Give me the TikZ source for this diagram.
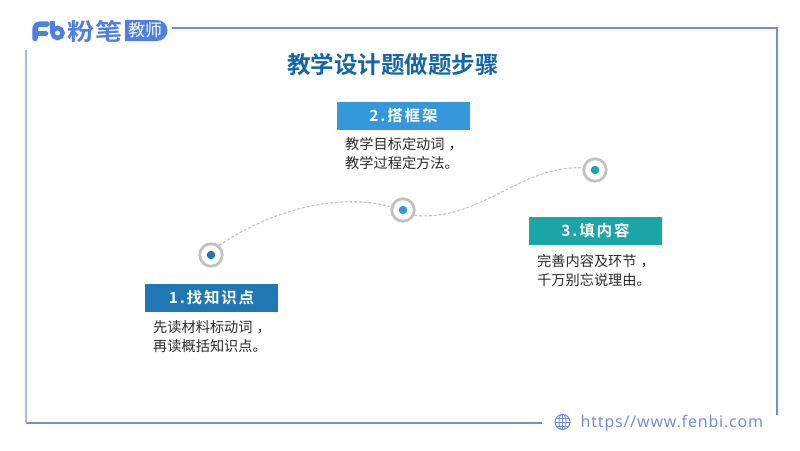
\documentclass[tikz,border=0pt]{standalone}
\usepackage{fontspec}
\setmainfont{Noto Sans}
\newfontfamily\cjk[BoldFont={Noto Sans CJK SC Bold}]{Noto Sans CJK SC}
\newfontfamily\cjkspaced[BoldFont={Noto Sans CJK SC Bold},LetterSpace=12]{Noto Sans CJK SC}
\newfontfamily\urlfont[LetterSpace=5]{Noto Sans}
\usetikzlibrary{positioning}
\definecolor{frameblue}{HTML}{6F8FDC}
\definecolor{frameleft}{HTML}{A9BBDC}
\definecolor{logoblue}{HTML}{4F7FE6}
\definecolor{titleblue}{HTML}{1565A8}
\definecolor{stepone}{HTML}{1F77B4}
\definecolor{steptwo}{HTML}{3498DB}
\definecolor{stepthree}{HTML}{1BA5A7}
\definecolor{ringgray}{HTML}{C2C2C2}
\definecolor{textdark}{HTML}{2A2A2A}
\tikzset{
    stepbox/.style={minimum width=133, minimum height=28, inner sep=0pt, text=white, font=\cjkspaced\bfseries\fontsize{15.5}{15.5}\selectfont},
    steptext/.style={anchor=north west, align=left, inner sep=0pt, text=textdark, font=\cjk\fontsize{14.2}{18.6}\selectfont},
    ring/.style={circle, draw=ringgray, line width=2.8, fill=white, minimum size=22.5, inner sep=0pt},
    ringdot/.style={circle, minimum size=8.5, inner sep=0pt},
    trail/.style={draw=ringgray, dash pattern=on 3 off 1.8, line width=1.1},
    frameline/.style={frameblue, line width=1.5},
    globeline/.style={frameblue, line width=0.8}
}
\newcommand{\stepStop}[4]{
    \node[ring] (#4) at (#2, #3) {};
    \node[ringdot, fill=#1] (#4dot) at (#2, #3) {};
}
\newcommand{\stepHead}[5]{
    \node[stepbox, fill=#1] (#4) at (#2, #3) {\raisebox{-2pt}{#5}};
}
\begin{document}
\begin{tikzpicture}[x=1pt, y=-1pt]
	\useasboundingbox (0, 0) rectangle (800, 450);

	\coordinate (topLeft) at (172, 28);
	\coordinate (topRight) at (778, 28);
	\coordinate (rightEnd) at (777, 415);
	\coordinate (bottomLeft) at (26, 423);
	\coordinate (bottomEnd) at (542, 423);
	\coordinate (leftEnd) at (26, 50);
	\draw[frameline] (topLeft) -- (topRight);
	\draw[frameline] (topRight -| rightEnd) -- (rightEnd);
	\draw[frameline] (bottomLeft) -- (bottomEnd);
	\draw[frameleft, line width=1.5] (bottomLeft) -- (leftEnd);

	\draw[logoblue, line width=5.5, line cap=round, line join=round] (35, 38.5) -- (35, 30) .. controls (35, 26) and (37, 24) .. (41, 24) -- (47, 24);
	\draw[logoblue, line width=4.5, line cap=round] (35, 33.5) -- (46, 33.5);
	\draw[logoblue, line width=4.5] (52.5, 21) -- (52.5, 33);
	\draw[logoblue, line width=4.5] (57.5, 33) circle (5);
	\node[text=logoblue, inner sep=0pt, font=\cjk\bfseries\fontsize{23.5}{23.5}\selectfont] (logoName) at (95, 31) {\scalebox{1.15}[1]{粉笔}};
	\fill[logoblue] (125, 20) -- (157, 20) arc[start angle=90, end angle=-90, radius=10.5pt] -- (125, 41) -- cycle;
	\node[text=white, inner sep=0pt, font=\cjk\fontsize{17}{17}\selectfont] (logoPill) at (145, 30.5) {教师};

	\node[text=titleblue, inner sep=0pt, font=\cjk\bfseries\fontsize{23.5}{23.5}\selectfont] (title) at (393, 65) {教学设计题做题步骤};

	\stepStop{stepone}{211}{255}{ringOne};
	\stepStop{steptwo}{403}{210}{ringTwo};
	\stepStop{stepthree}{595}{170}{ringThree};

	\draw[trail] (ringOne.50) .. controls (275, 208) and (340, 193) .. (ringTwo.165);
	\draw[trail] (ringTwo.-25) .. controls (480, 222) and (520, 165) .. (ringThree.170);

	\stepHead{stepone}{211.5}{298}{headOne}{1.找知识点};
	\stepHead{steptwo}{403.5}{116}{headTwo}{2.搭框架};
	\stepHead{stepthree}{595.5}{231}{headThree}{3.填内容};

	\node[steptext] (textOne) at (153, 320.5) {先读材料标动词\kern4pt，\\再读概括知识点。};
	\node[steptext] (textTwo) at (345, 137.5) {教学目标定动词\kern4pt，\\教学过程定方法。};
	\node[steptext] (textThree) at (537, 254.5) {完善内容及环节\kern4pt，\\千万别忘说理由。};

	\node[circle, draw=frameblue, line width=1, minimum size=15, inner sep=0pt] (globe) at (562.5, 422) {};
	\draw[globeline] (globe.north) -- (globe.south);
	\draw[globeline] (globe.west) -- (globe.east);
	\draw[globeline] (globe.north) arc[x radius=3.5pt, y radius=8pt, start angle=90, end angle=270];
	\draw[globeline] (globe.north) arc[x radius=3.5pt, y radius=8pt, start angle=90, end angle=-90];
	\draw[globeline] (556, 418) -- (569, 418);
	\draw[globeline] (556, 426) -- (569, 426);
	\node[right=10 of globe.east, inner sep=0pt, text=frameblue, font=\urlfont\fontsize{16}{16}\selectfont, yshift=-1] (siteUrl) {https//www.fenbi.com};
\end{tikzpicture}
\end{document}
